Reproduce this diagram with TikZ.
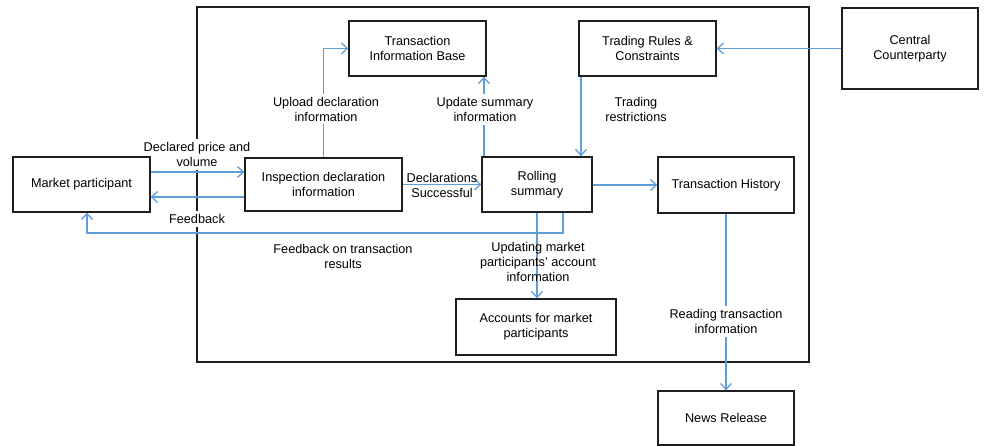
\documentclass[tikz,border=0pt]{standalone}
\usepackage{fontspec}
\setmainfont{Liberation Sans}
\usetikzlibrary{arrows.meta}
\definecolor{linkc}{RGB}{96,158,216}
\definecolor{boxc}{RGB}{30,30,30}
\tikzset{
  box/.style={draw=boxc, line width=1.3pt, align=center, inner sep=2pt, font=\fontsize{12.7}{15}\selectfont},
  lbl/.style={align=center, inner sep=1pt, font=\fontsize{12.7}{15}\selectfont},
  lblw/.style={lbl, fill=white, inner sep=3pt},
  arr/.style={draw=linkc, line width=1.3pt, -{Straight Barb[length=6pt,width=11pt,line width=1.3pt]}},
  ln/.style={draw=linkc, line width=1.3pt}
}
\begin{document}
\begin{tikzpicture}[x=1pt,y=-1pt]
\useasboundingbox (0,0) rectangle (984,446);
% outer frame
\draw[boxc, line width=1.3pt] (197,7) rectangle (809,362);
% labels that sit on the frame (drawn before the boxes)
\node[lblw] (l1) at (197,154.5) {Declared price and\\volume};
\node[lblw] (l2) at (197,219) {Feedback};
% nodes
\node[box, minimum width=137pt, minimum height=55pt] (mp) at (81.5,184.5) {Market participant};
\node[box, minimum width=157pt, minimum height=53pt] (insp) at (323.5,184.5) {Inspection declaration\\information};
\node[box, minimum width=110pt, minimum height=55pt] (roll) at (537,184.5) {Rolling\\summary};
\node[box, minimum width=136pt, minimum height=56pt] (th) at (726,185) {Transaction History};
\node[box, minimum width=137pt, minimum height=55pt] (tib) at (417.5,48.5) {Transaction\\Information Base};
\node[box, minimum width=137pt, minimum height=55pt] (trc) at (647.5,48.5) {Trading Rules \&\\Constraints};
\node[box, minimum width=136pt, minimum height=81pt] (cc) at (910,48.5) {Central\\Counterparty};
\node[box, minimum width=160pt, minimum height=56pt] (acc) at (536,327) {Accounts for market\\participants};
\node[box, minimum width=136pt, minimum height=54pt] (news) at (726,418) {News Release};
% connectors
\draw[arr] (mp.east |- 0,172) -- (insp.west |- 0,172);
\draw[arr] (insp.west |- 0,197) -- (mp.east |- 0,197);
\coordinate (fb1) at (563,233);
\coordinate (fb2) at (87,233);
\draw[arr] (roll.south -| fb1) -- (fb1) -- (fb2) -- (mp.south -| fb2);
\draw[arr] (insp.east) -- (roll.west |- insp.east);
\draw[arr] (insp.north) |- (tib.west);
\coordinate (us) at (484,0);
\draw[arr] (roll.north -| us) -- (tib.south -| us);
\coordinate (tr) at (581,0);
\draw[arr] (trc.south -| tr) -- (roll.north -| tr);
\draw[arr] (cc.west) -- (trc.east);
\draw[arr] (roll.east |- 0,185) -- (th.west |- 0,185);
\draw[arr] (roll.south) -- (roll.south |- acc.north);
\draw[arr] (th.south) -- (news.north);
% labels
\node[lbl] (l3) at (343,256) {Feedback on transaction\\results};
\node[lbl] (l4) at (442,185) {Declarations\\Successful};
\node[lblw] (l5) at (326,109) {Upload declaration\\information};
\node[lblw] (l6) at (485,109.5) {Update summary\\information};
\node[lbl] (l7) at (636,109.5) {Trading\\restrictions};
\node[lbl] (l8) at (538,262) {Updating market\\participants' account\\information};
\node[lblw] (l9) at (726,321.5) {Reading transaction\\information};
\end{tikzpicture}
\end{document}
